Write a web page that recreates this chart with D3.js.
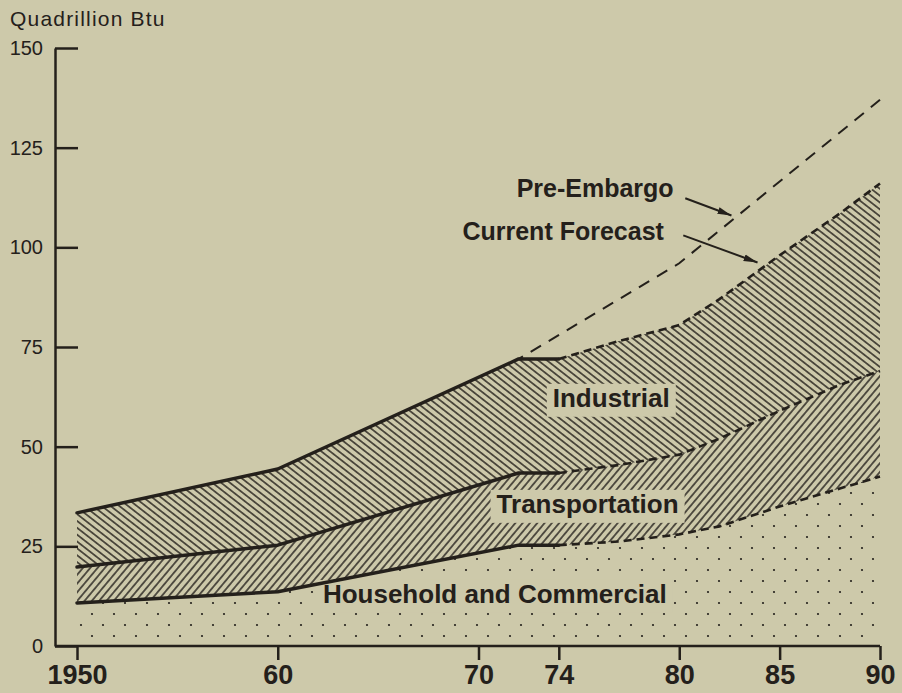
<!DOCTYPE html>
<html>
<head>
<meta charset="utf-8">
<script src="https://cdn.jsdelivr.net/npm/d3@7"></script>
<style>
  html, body { margin: 0; padding: 0; background: #cdc9aa; }
  svg { display: block; }
</style>
</head>
<body>
<div id="chart"></div>
<script>
const years = [1950, 1960, 1972, 1974, 1977, 1980, 1982, 1985, 1988, 1990];
const household = [10.8, 13.6, 25.3, 25.3, 26.2, 28, 30, 35, 39.5, 42.5];
const transportation = [19.8, 25.3, 43.4, 43.4, 45.4, 48, 52, 59, 65.5, 69];
const totalUse = [33.4, 44.4, 72, 72, 76.5, 80.5, 87, 98, 108.5, 116];
const preEmbargoYears = [1972, 1980, 1990];
const preEmbargo = [72, 96, 137];
const forecastStart = 1974;
const xTicks = [1950, 1960, 1970, 1974, 1980, 1985, 1990];
const yTicks = [0, 25, 50, 75, 100, 125, 150];

const bg = "#cdc9aa";
const ink = "#24201b";
const font = "'Liberation Sans', Arial, Helvetica, sans-serif";

let margins = { top: 48, bottom: 47, left: 55, right: 22 };
let width = 902 - margins.left - margins.right;
let height = 693 - margins.top - margins.bottom;

let rows = years.map(function (yr, i) {
    return { year: yr, household: household[i], transportation: transportation[i], total: totalUse[i] };
});
let preRows = preEmbargoYears.map(function (yr, i) {
    return { year: yr, value: preEmbargo[i] };
});

let root = d3.select("#chart").append("svg")
    .attr("width", 902)
    .attr("height", 693)
    .style("background", bg);

let defs = root.append("defs");

// hatch patterns
function hatch(id, angle, gap) {
    let p = defs.append("pattern")
        .attr("id", id)
        .attr("patternUnits", "userSpaceOnUse")
        .attr("width", 12)
        .attr("height", gap)
        .attr("patternTransform", "rotate(" + angle + ")");
    p.append("line")
        .attr("x1", -1).attr("x2", 13)
        .attr("y1", gap / 2).attr("y2", gap / 2)
        .attr("stroke", ink)
        .attr("stroke-width", 1.4);
}
hatch("industrial-hatch", 38, 5.4);
hatch("transport-hatch", -50, 5.6);

let dots = defs.append("pattern")
    .attr("id", "household-dots")
    .attr("patternUnits", "userSpaceOnUse")
    .attr("width", 22)
    .attr("height", 22);
dots.append("circle").attr("cx", 4).attr("cy", 5).attr("r", 1.1).attr("fill", ink);
dots.append("circle").attr("cx", 15).attr("cy", 16).attr("r", 1.1).attr("fill", ink);

defs.append("marker")
    .attr("id", "arrow")
    .attr("markerUnits", "userSpaceOnUse")
    .attr("markerWidth", 16)
    .attr("markerHeight", 10)
    .attr("refX", 14)
    .attr("refY", 5)
    .attr("orient", "auto")
    .append("path")
    .attr("d", "M0,1.5 L14,5 L0,8.5 Z")
    .attr("fill", ink);

let svg = root.append("g")
    .attr("transform", "translate(" + margins.left + "," + margins.top + ")");

let xScale = d3.scaleLinear()
    .domain([1950, 1990]).range([22, width]);

let yScale = d3.scaleLinear()
    .domain([0, 150]).range([height, 0]);

// stacked areas
function area(lo, hi) {
    return d3.area()
        .x(function (d) { return xScale(d.year); })
        .y0(function (d) { return lo ? yScale(d[lo]) : yScale(0); })
        .y1(function (d) { return yScale(d[hi]); });
}

svg.append("path").datum(rows)
    .attr("d", area(null, "household"))
    .attr("fill", "url(#household-dots)");
svg.append("path").datum(rows)
    .attr("d", area("household", "transportation"))
    .attr("fill", "url(#transport-hatch)");
svg.append("path").datum(rows)
    .attr("d", area("transportation", "total"))
    .attr("fill", "url(#industrial-hatch)");

// labels with cleared boxes
let labels = [
    { text: "Industrial", year: 1973.7, value: 60.0 },
    { text: "Transportation", year: 1970.9, value: 33.4 },
    { text: "Household and Commercial", year: 1962.25, value: 10.8 }
];

let labelGroup = svg.append("g");
labels.forEach(function (l) {
    let t = labelGroup.append("text")
        .text(l.text)
        .attr("x", xScale(l.year))
        .attr("y", yScale(l.value))
        .style("font-family", font)
        .style("font-weight", "bold")
        .style("font-size", "26px")
        .attr("fill", ink);
    let b = t.node().getBBox();
    labelGroup.insert("rect", "text")
        .attr("x", b.x - 6)
        .attr("y", b.y + 1)
        .attr("width", b.width + 12)
        .attr("height", b.height + 3)
        .attr("fill", bg);
});

// boundary lines: solid history, dashed forecast
let past = rows.filter(function (d) { return d.year <= forecastStart; });
let future = rows.filter(function (d) { return d.year >= forecastStart; });

["household", "transportation", "total"].forEach(function (key) {
    let line = d3.line()
        .x(function (d) { return xScale(d.year); })
        .y(function (d) { return yScale(d[key]); });

    svg.append("path")
        .datum(past)
        .attr("fill", "none")
        .attr("stroke", ink)
        .attr("stroke-width", 3.5)
        .attr("stroke-linejoin", "round")
        .attr("stroke-linecap", "round")
        .attr("d", line);

    svg.append("path")
        .datum(future)
        .attr("fill", "none")
        .attr("stroke", ink)
        .attr("stroke-width", 2.6)
        .attr("stroke-dasharray", "8, 5")
        .attr("d", line);
});

svg.append("path")
    .datum(preRows)
    .attr("fill", "none")
    .attr("stroke", ink)
    .attr("stroke-width", 2)
    .attr("stroke-dasharray", "12, 9")
    .attr("stroke-dashoffset", -14)
    .attr("d", d3.line()
        .x(function (d) { return xScale(d.year); })
        .y(function (d) { return yScale(d.value); }));

// forecast annotations
let notes = [
    { text: "Pre-Embargo", year: 1971.9, value: 112.7, from: [1980.3, 112.3], to: [1982.6, 108.0] },
    { text: "Current Forecast", year: 1969.2, value: 101.9, from: [1980.2, 103.0], to: [1983.9, 96.2] }
];
notes.forEach(function (n) {
    svg.append("text")
        .text(n.text)
        .attr("x", xScale(n.year))
        .attr("y", yScale(n.value))
        .style("font-family", font)
        .style("font-weight", "bold")
        .style("font-size", "25px")
        .attr("fill", ink);
    svg.append("line")
        .attr("x1", xScale(n.from[0])).attr("y1", yScale(n.from[1]))
        .attr("x2", xScale(n.to[0])).attr("y2", yScale(n.to[1]))
        .attr("stroke", ink)
        .attr("stroke-width", 2)
        .attr("marker-end", "url(#arrow)");
});

// axes
let yAxis = svg.append("g")
    .attr("class", "y-axis")
    .call(d3.axisLeft(yScale)
        .tickValues(yTicks)
        .tickSizeInner(-23)
        .tickSizeOuter(0)
        .tickPadding(12));
yAxis.selectAll("line, path").attr("stroke", ink).attr("stroke-width", 2.5);
yAxis.selectAll("text")
    .attr("fill", ink)
    .style("font-family", font)
    .style("font-size", "20px");

let xAxis = svg.append("g")
    .attr("class", "x-axis")
    .attr("transform", "translate(0," + height + ")")
    .call(d3.axisBottom(xScale)
        .tickValues(xTicks)
        .tickSizeInner(14)
        .tickSizeOuter(0)
        .tickPadding(5)
        .tickFormat(function (d) { return d === 1950 ? "1950" : String(d).slice(2); }));
xAxis.select(".domain").remove();
xAxis.append("line")
    .attr("x1", 0).attr("x2", xScale(1990))
    .attr("stroke", ink).attr("stroke-width", 2.5);
xAxis.selectAll("line").attr("stroke", ink).attr("stroke-width", 2.5);
xAxis.selectAll("text")
    .attr("fill", ink)
    .style("font-family", font)
    .style("font-weight", "bold")
    .style("font-size", "27px");

root.append("text") // y axis unit
    .text("Quadrillion Btu")
    .attr("x", 10)
    .attr("y", 26)
    .attr("fill", ink)
    .style("font-family", font)
    .style("font-size", "21px")
    .style("letter-spacing", "1.2px");
</script>
</body>
</html>
